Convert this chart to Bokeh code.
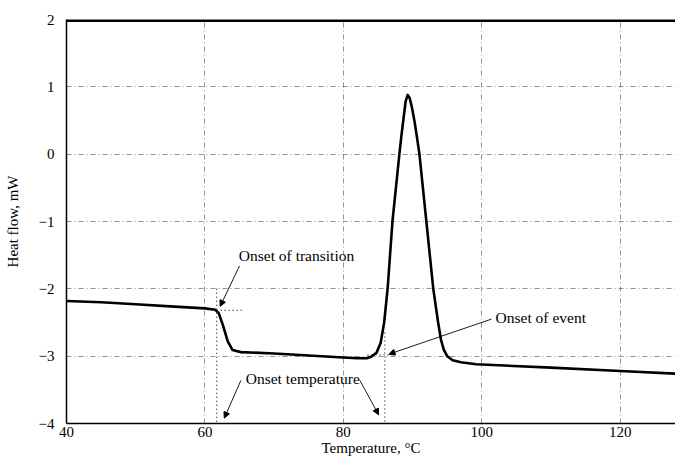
from bokeh.plotting import figure
from bokeh.models import Range1d, Span, Label, Arrow, NormalHead, FixedTicker
from bokeh.embed import file_html
from bokeh.resources import INLINE

# DSC curve: temperature (°C) vs heat flow (mW)
temperature = [40, 45, 50, 55, 60, 61.5, 62.0, 62.6, 63.3, 64.0, 65.2, 70, 75, 80, 82, 83.4,
               84.0, 84.8, 85.4, 85.9, 86.4, 87.1, 87.6, 88.1, 88.4, 88.7, 89.0, 89.3, 89.6,
               89.9, 90.3, 90.6, 91.0, 91.5, 92.0, 93.0, 93.7, 94.1, 94.5, 95.0, 95.8, 97.0,
               99.2, 110, 120, 128]
heat_flow = [-2.18, -2.20, -2.23, -2.26, -2.29, -2.31, -2.36, -2.54, -2.78, -2.91, -2.94,
             -2.96, -2.99, -3.02, -3.03, -3.03, -3.01, -2.95, -2.80, -2.50, -2.00, -1.00,
             -0.50, 0.0, 0.28, 0.53, 0.78, 0.88, 0.83, 0.70, 0.48, 0.28, 0.0, -0.50, -1.00,
             -2.00, -2.50, -2.75, -2.90, -3.00, -3.06, -3.09, -3.12, -3.17, -3.22, -3.26]

x_ticks = [40, 60, 80, 100, 120]
y_ticks = [-4, -3, -2, -1, 0, 1, 2]

# Annotation texts and anchor positions (data units)
ann_texts = ["Onset of transition", "Onset of event", "Onset temperature"]
ann_x = [64.9, 102.0, 65.9]
ann_y = [-1.51, -2.43, -3.33]

# Dotted construction lines (x0, y0, x1, y1)
dot_lines = [
    (61.7, -2.0, 61.7, -4.0),
    (61.7, -2.32, 65.7, -2.32),
    (86.0, -2.65, 86.0, -4.0),
    (83.5, -2.98, 87.3, -2.98),
]
# Arrows (x_start, y_start, x_end, y_end)
arrows = [
    (65.0, -1.66, 62.2, -2.26),
    (101.4, -2.45, 86.6, -2.97),
    (65.2, -3.36, 62.8, -3.92),
    (82.4, -3.36, 85.1, -3.87),
]

FONT = "Liberation Serif"

p = figure(width=675, height=458, output_backend="svg", toolbar_location=None,
           x_range=Range1d(40, 128), y_range=Range1d(-4, 2),
           min_border_left=66, min_border_top=19, min_border_right=0, min_border_bottom=30)
p.outline_line_color = None
p.background_fill_color = "white"

p.line(temperature, heat_flow, line_color="black", line_width=2.6, line_join="round")

for x0, y0, x1, y1 in dot_lines:
    p.line([x0, x1], [y0, y1], line_color="#222222", line_width=1.2, line_dash="1 3")

for x0, y0, x1, y1 in arrows:
    p.add_layout(Arrow(x_start=x0, y_start=y0, x_end=x1, y_end=y1, line_width=0.9,
                       line_color="black",
                       end=NormalHead(size=6, fill_color="black", line_color="black")))

for t, x, y in zip(ann_texts, ann_x, ann_y):
    p.add_layout(Label(x=x, y=y, text=t, text_font=FONT, text_font_size="15.5px",
                       text_baseline="middle", text_align="left", text_color="black"))

# thick top frame edge
p.add_layout(Span(location=2, dimension="width", line_color="black", line_width=5))

p.xaxis.ticker = FixedTicker(ticks=x_ticks)
p.yaxis.ticker = FixedTicker(ticks=y_ticks)
p.yaxis.major_label_overrides = {v: (("\u2212" + str(abs(v))) if v < 0 else str(v)) for v in y_ticks}

for ax in (p.xaxis[0], p.yaxis[0]):
    ax.axis_line_color = "black"
    ax.axis_line_width = 1.5
    ax.major_tick_out = 0
    ax.major_tick_in = 0
    ax.minor_tick_out = 0
    ax.minor_tick_in = 0
    ax.major_label_text_font = FONT
    ax.major_label_text_font_size = "15px"
    ax.major_label_text_color = "black"
    ax.axis_label_text_font = FONT
    ax.axis_label_text_font_size = "15px"
    ax.axis_label_text_font_style = "normal"
    ax.axis_label_text_color = "black"

p.xaxis.major_label_standoff = 3
p.yaxis.major_label_standoff = 12
p.xaxis.axis_label = "Temperature, °C"
p.yaxis.axis_label = "Heat flow, mW"
p.xaxis.axis_label_standoff = 0
p.yaxis.axis_label_standoff = 15

p.grid.grid_line_color = "#555555"
p.grid.grid_line_width = 0.8
p.grid.grid_line_dash = "5 3 1 3"
p.grid.grid_line_alpha = 0.8

open("out.html", "w").write(file_html(p, INLINE))
